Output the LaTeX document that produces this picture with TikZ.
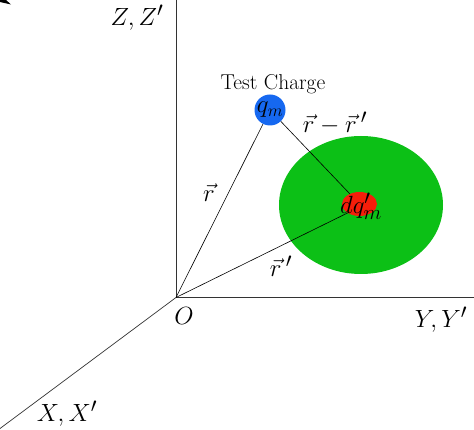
\documentclass[tikz,border=0pt]{standalone}
\usetikzlibrary{shapes.geometric,calc}
\definecolor{qblue}{RGB}{22,104,240}
\definecolor{qgreen}{RGB}{12,192,22}
\definecolor{qred}{RGB}{245,30,10}
\tikzset{
  axis/.style={draw=black!80, line width=0.7pt},
  conn/.style={draw=black, line width=0.6pt},
  axlabel/.style={font=\fontsize{28.5}{32}\selectfont, inner sep=0pt},
  vlabel/.style={font=\fontsize{27.5}{32}\selectfont, inner sep=0pt},
}
\begin{document}
\begin{tikzpicture}[x=1pt,y=-1pt]
\useasboundingbox (0,0) rectangle (474,430);
% green charge distribution
\fill[qgreen] (361,205) ellipse [x radius=82, y radius=69];
% axes
\coordinate (O) at (176,297.5);
\coordinate (ztop) at (176,0);
\coordinate (yend) at (474,297.5);
\coordinate (xend) at (-2,430);
\draw[axis] (O) -- (ztop);
\draw[axis] (O) -- (yend);
\draw[axis] (O) -- (xend);
% fragment at top-left corner
\fill[black] (0,0) -- (6,0) -- (11,4.5) -- (0,2) -- cycle;
% charges
\node[ellipse, fill=qred, minimum width=35, minimum height=24, inner sep=0pt] (dq) at (359.5,204) {};
\node[circle, fill=qblue, minimum size=31, inner sep=0pt] (qm) at (270,110) {};
\node[vlabel] at (361,206) {$dq'_m$};
\node[font=\fontsize{26}{30}\selectfont, inner sep=0pt] at (270,110) {$q_m$};
\node[font=\fontsize{21.5}{26}\selectfont, inner sep=0pt] (tc) at (273,84) {Test Charge};
% connectors
\coordinate (dqin) at ($(dq)+(-10,8)$);
\draw[conn] (O) -- (qm);
\draw[conn] (qm) -- (dq);
\draw[conn] (O) -- (dqin);
% labels
\node[vlabel] (lr) at (209,193) {$\vec{r}$};
\node[vlabel] (lrr) at (335,123) {$\vec{r}-\vec{r}\,'$};
\node[vlabel] (lrp) at (281,266) {$\vec{r}\,'$};
\node[axlabel] (lz) at (137,18) {$Z,Z'$};
\node[axlabel] (ly) at (441,320) {$Y,Y'$};
\node[axlabel] (lx) at (67,414) {$X,X'$};
\node[axlabel] (lo) at (184,316) {$O$};
\end{tikzpicture}
\end{document}
